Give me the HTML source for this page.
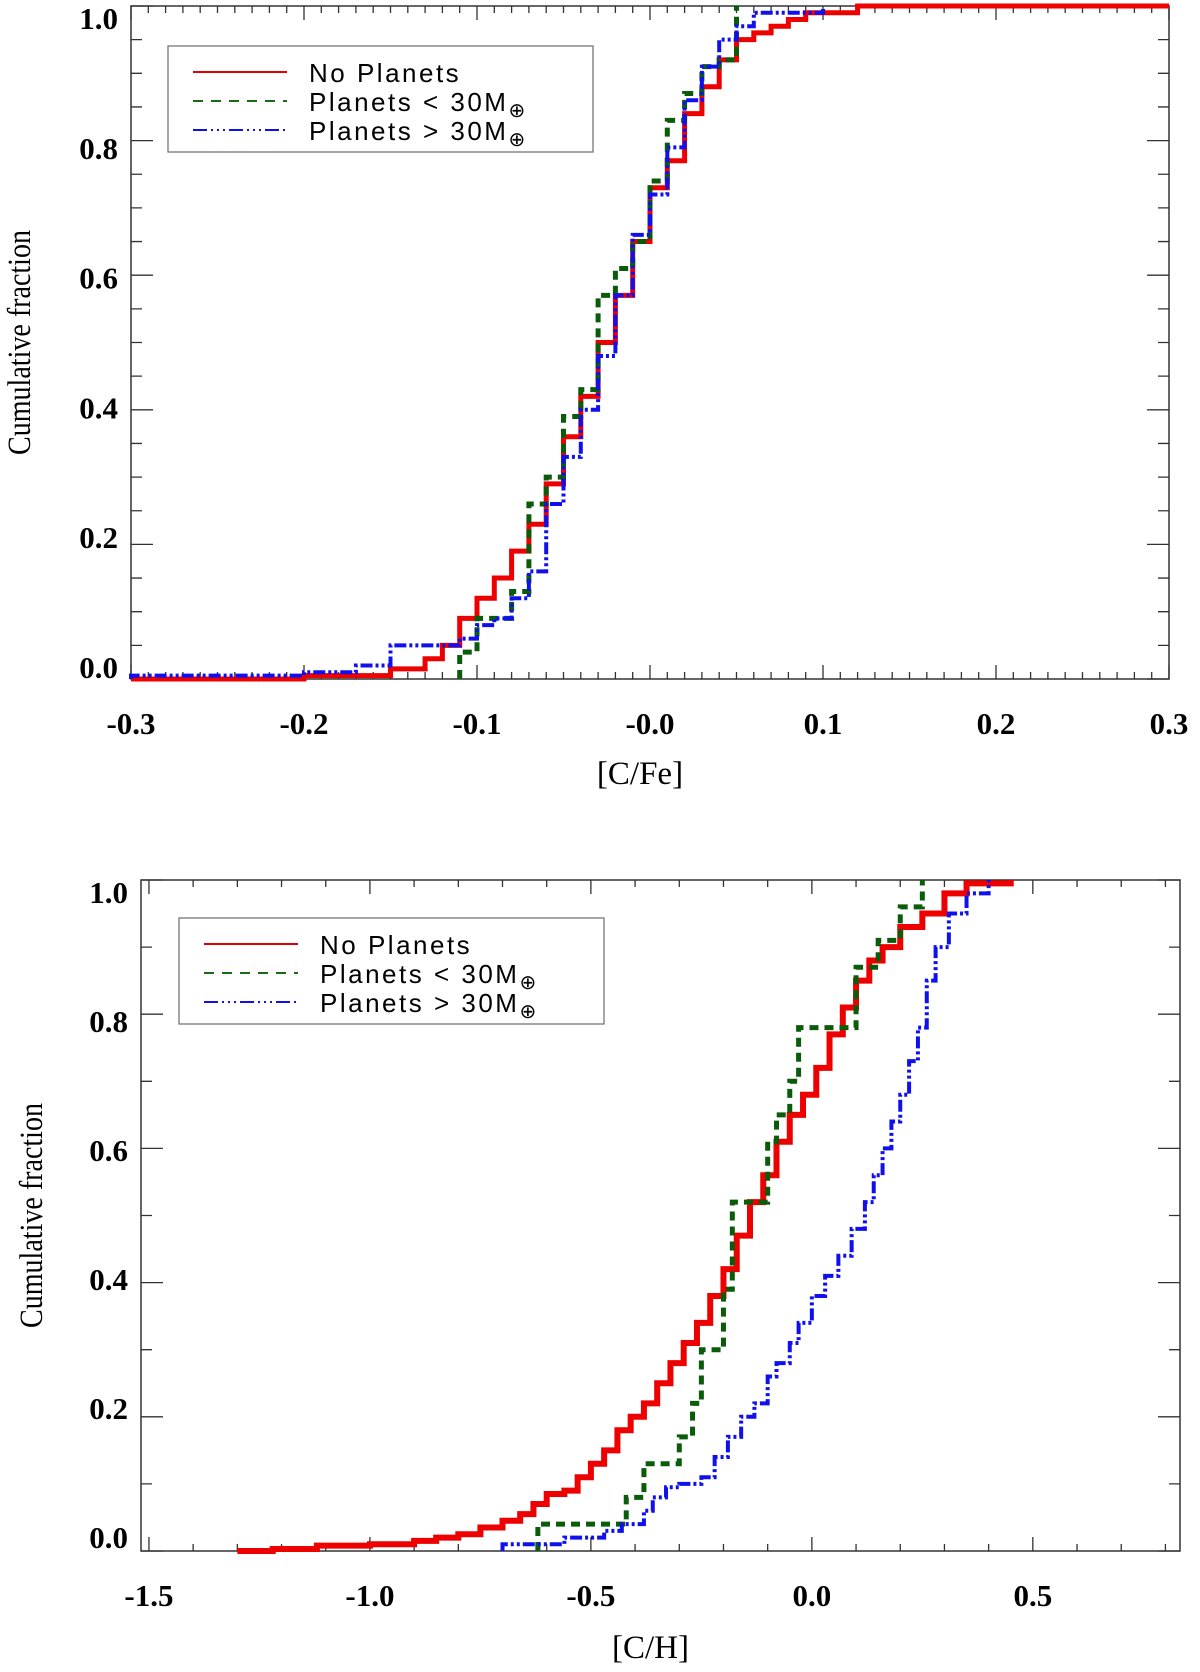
<!DOCTYPE html>
<html><head><meta charset="utf-8"><style>
html,body{margin:0;padding:0;background:#fff;}
svg{display:block;}
.tl{font-family:"Liberation Serif",serif;font-weight:bold;font-size:31px;fill:#000;}
.ti{font-family:"Liberation Serif",serif;font-size:33px;fill:#000;}
.lg{font-family:"Liberation Sans",sans-serif;font-size:26px;fill:#000;letter-spacing:2.5px;}
</style></head><body>
<svg id="chart" width="1200" height="1672" viewBox="0 0 1200 1672"></svg>
<script>
// Top panel data: [C/Fe]
const topRedX = [-0.3,-0.2,-0.15,-0.13,-0.12,-0.11,-0.1,-0.09,-0.08,-0.07,-0.06,-0.05,-0.04,-0.03,-0.02,-0.01,0.0,0.01,0.02,0.03,0.04,0.05,0.06,0.07,0.08,0.09,0.12,0.3];
const topRedY = [0,0.005,0.015,0.03,0.05,0.09,0.12,0.15,0.19,0.23,0.29,0.36,0.42,0.5,0.57,0.65,0.73,0.77,0.84,0.88,0.92,0.95,0.96,0.97,0.98,0.99,1.0,1.0];
const topGreenX = [-0.11,-0.1,-0.08,-0.07,-0.06,-0.05,-0.04,-0.03,-0.02,-0.01,0.0,0.01,0.02,0.03,0.04,0.05];
const topGreenY = [0.04,0.09,0.13,0.26,0.30,0.39,0.43,0.57,0.61,0.65,0.74,0.83,0.87,0.91,0.92,1.0];
const topBlueX = [-0.3,-0.2,-0.17,-0.15,-0.11,-0.1,-0.09,-0.08,-0.07,-0.06,-0.05,-0.04,-0.03,-0.02,-0.01,0.0,0.01,0.02,0.03,0.04,0.05,0.06,0.1];
const topBlueY = [0.005,0.01,0.02,0.05,0.06,0.08,0.09,0.12,0.16,0.26,0.33,0.40,0.48,0.57,0.66,0.72,0.79,0.86,0.91,0.95,0.97,0.99,1.0];
const topXTicks = ["-0.3","-0.2","-0.1","-0.0","0.1","0.2","0.3"];
const topYTicks = ["0.0","0.2","0.4","0.6","0.8","1.0"];
// Bottom panel data: [C/H]
const botRedX = [-1.3,-1.22,-1.12,-1.0,-0.9,-0.85,-0.8,-0.75,-0.7,-0.66,-0.63,-0.6,-0.56,-0.53,-0.5,-0.47,-0.44,-0.41,-0.38,-0.35,-0.32,-0.29,-0.26,-0.23,-0.2,-0.17,-0.14,-0.11,-0.08,-0.05,-0.02,0.01,0.04,0.07,0.1,0.13,0.16,0.2,0.25,0.3,0.35,0.45];
const botRedY = [0,0.003,0.008,0.01,0.015,0.02,0.025,0.035,0.045,0.055,0.07,0.085,0.09,0.11,0.13,0.15,0.18,0.2,0.22,0.25,0.28,0.31,0.34,0.38,0.42,0.47,0.52,0.56,0.61,0.65,0.68,0.72,0.77,0.81,0.85,0.88,0.9,0.93,0.95,0.98,0.995,1.0];
const botGreenX = [-0.62,-0.5,-0.42,-0.38,-0.3,-0.27,-0.25,-0.2,-0.18,-0.12,-0.1,-0.08,-0.05,-0.03,0.05,0.1,0.15,0.2,0.25];
const botGreenY = [0.04,0.04,0.08,0.13,0.17,0.22,0.30,0.39,0.52,0.52,0.61,0.65,0.70,0.78,0.78,0.87,0.91,0.96,1.0];
const botBlueX = [-0.7,-0.56,-0.47,-0.43,-0.38,-0.36,-0.33,-0.3,-0.25,-0.22,-0.19,-0.16,-0.13,-0.1,-0.08,-0.05,-0.03,0.0,0.03,0.06,0.09,0.12,0.14,0.16,0.18,0.2,0.22,0.24,0.26,0.28,0.31,0.35,0.4];
const botBlueY = [0.01,0.02,0.03,0.04,0.06,0.08,0.095,0.1,0.11,0.14,0.17,0.2,0.22,0.26,0.28,0.31,0.34,0.38,0.41,0.44,0.48,0.52,0.56,0.6,0.64,0.68,0.73,0.78,0.85,0.9,0.95,0.98,1.0];
const botXTicks = ["-1.5","-1.0","-0.5","0.0","0.5"];
const botYTicks = ["0.0","0.2","0.4","0.6","0.8","1.0"];

const NS="http://www.w3.org/2000/svg";
const svg=document.getElementById('chart');
function mk(tag,attrs,parent){const e=document.createElementNS(NS,tag);for(const k in attrs)e.setAttribute(k,attrs[k]);(parent||svg).appendChild(e);return e;}

function panel(p){
  const g=mk('g',{});
  
  
  const sx=v=>p.L+(v-p.xmin)/(p.xmax-p.xmin)*(p.R-p.L);
  const sy=v=>p.B-(v-p.ymin)/(p.ymax-p.ymin)*(p.B-p.T);
  const box=mk('rect',{x:p.L,y:p.T,width:p.R-p.L,height:p.B-p.T,fill:'none',stroke:'#333','stroke-width':1.5},g);
  
  
  let d='';
  const nx=Math.round((p.xTickMax-p.xTickMin)/p.xMinor);
  for(let i=0;i<=nx;i++){const v=p.xTickMin+i*p.xMinor;const X=sx(v);if(X<p.L-0.5||X>p.R+0.5)continue;
    const major=(i%p.xMajorEvery)===0;const len=major?14:7;
    d+=`M${X},${p.B}v${-len}M${X},${p.T}v${len}`;}
  const ny=Math.round((p.ymax-p.ymin)/p.yMinor);
  for(let i=0;i<=ny;i++){const v=p.ymin+i*p.yMinor;const Y=sy(v);const major=(i%p.yMajorEvery)===0;const len=major?22:11;
    d+=`M${p.L},${Y}h${len}M${p.R},${Y}h${-len}`;}
  const t=mk('path',{d:d,stroke:'#333','stroke-width':1.3,fill:'none'},g);
  
  
  p.xTicks.forEach((lab,i)=>{const v=p.xTickMin+i*p.xMinor*p.xMajorEvery;
    const e=mk('text',{x:sx(v),y:p.xLabY,'text-anchor':'middle',class:'tl'},g);e.textContent=lab;
    
    });
  p.yTicks.forEach((lab,i)=>{const v=p.ymin+i*0.2;
    const yc=p.labBot+(p.labTop-p.labBot)*v;
    const e=mk('text',{x:p.yLabX,y:yc+10,'text-anchor':'end',class:'tl'},g);e.textContent=lab;
    
    });
  const xt=mk('text',{x:(p.L+p.R)/2-10,y:p.xTitleY,'text-anchor':'middle',class:'ti'},g);xt.textContent=p.xTitle;
  
  
  const yt=mk('text',{x:0,y:0,'text-anchor':'middle',class:'ti',transform:`translate(${p.yTitleX},${(p.T+p.B)/2}) rotate(-90) scale(0.85,1)`},g);yt.textContent='Cumulative fraction';
  
  
  p.series.forEach(s=>{
    let pd=`M${sx(s.x[0])},${sy(0)}`;
    for(let i=0;i<s.x.length;i++){pd+=`H${sx(s.x[i])}V${sy(s.y[i])}`;}
    const e=mk('path',{d:pd,fill:'none',stroke:s.color,'stroke-width':s.w,'stroke-dasharray':s.dash||'none'},g);
    
    
  });
  const lg=mk('g',{},g);
  
  
  mk('rect',{x:p.lgX,y:p.lgY,width:425,height:106,fill:'#fff',stroke:'#777','stroke-width':1.3},lg);
  const entries=[['No Planets','#e00000','none'],['Planets < 30M','#1a6a1a','10,8'],['Planets > 30M','#1010ee','14,4,2,4,2,4,2,4']];
  entries.forEach((en,i)=>{const y=p.lgY+26+i*29;
    const ln=mk('line',{x1:p.lgX+25,x2:p.lgX+119,y1:y,y2:y,stroke:en[1],'stroke-width':2,'stroke-dasharray':en[2]},lg);
    
    
    const tx=mk('text',{x:p.lgX+141,y:y+10,class:'lg'},lg);tx.textContent=en[0];
    
    
    if(i>0){const sub=mk('tspan',{'font-size':'20','dy':'6'},tx);sub.textContent='⊕';}
  });
}

panel({name:'cfe-panel',L:131,R:1169,T:6,B:679,xmin:-0.3,xmax:0.3,ymin:0,ymax:1,
  xTickMin:-0.3,xTickMax:0.3,xMinor:0.01,xMajorEvery:10,yMinor:0.05,yMajorEvery:4,
  xTicks:topXTicks,yTicks:topYTicks,xLabY:734,yLabX:118,xTitle:'[C/Fe]',xTitleY:784,yTitleX:30,
  labTop:19,labBot:668,
  lgX:168,lgY:46,
  series:[
    {name:'series-no-planets',x:topRedX,y:topRedY,color:'#ee0000',w:5},
    {name:'series-planets-lt-30',x:topGreenX,y:topGreenY,color:'#0a5c0a',w:5,dash:'9,6'},
    {name:'series-planets-gt-30',x:topBlueX,y:topBlueY,color:'#1010ee',w:4,dash:'12,3,3,3,3,3'}]});

panel({name:'ch-panel',L:141,R:1180,T:880,B:1551,xmin:-1.518,xmax:0.833,ymin:0,ymax:1,
  xTickMin:-1.5,xTickMax:0.8,xMinor:0.1,xMajorEvery:5,yMinor:0.1,yMajorEvery:2,
  xTicks:botXTicks,yTicks:botYTicks,xLabY:1606,yLabX:128,xTitle:'[C/H]',xTitleY:1658,yTitleX:42,
  labTop:893,labBot:1538,
  lgX:179,lgY:918,
  series:[
    {name:'series-no-planets',x:botRedX,y:botRedY,color:'#ee0000',w:6},
    {name:'series-planets-lt-30',x:botGreenX,y:botGreenY,color:'#0a5c0a',w:5,dash:'9,6'},
    {name:'series-planets-gt-30',x:botBlueX,y:botBlueY,color:'#1010ee',w:4,dash:'12,3,3,3,3,3'}]});
</script>
</body></html>
